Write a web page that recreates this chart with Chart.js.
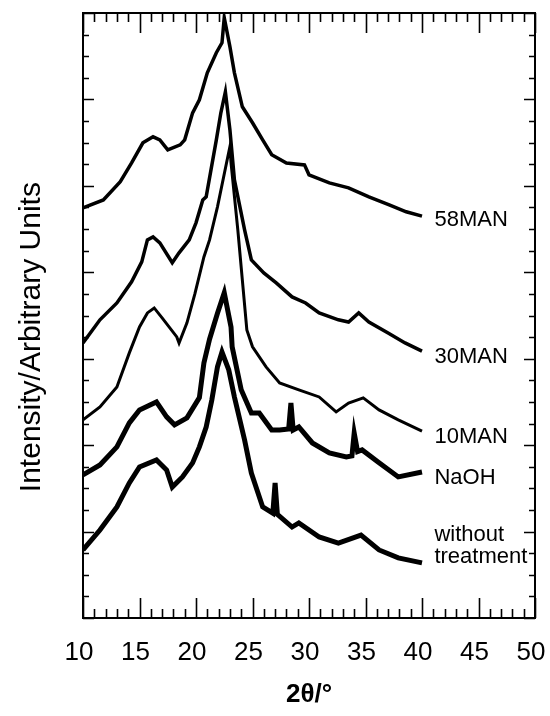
<!DOCTYPE html>
<html>
<head>
<meta charset="utf-8">
<script src="https://cdn.jsdelivr.net/npm/chart.js@4.4.1/dist/chart.umd.min.js"></script>
<style>
  html, body { margin: 0; padding: 0; background: #fff; }
  #wrap { width: 550px; height: 716px; }
</style>
</head>
<body>
<div id="wrap"><canvas id="xrd" width="550" height="716"></canvas></div>
<script>
// 2theta (deg) and intensity (arbitrary, stacked offsets)
const tt58 = [10.0, 11.8, 13.3, 14.3, 15.3, 16.2, 16.8, 17.5, 18.6, 19.0, 19.7, 20.3, 21.0, 21.8, 22.3, 22.5, 23.0, 23.4, 24.1, 25.0, 25.9, 26.7, 28.0, 29.6, 30.0, 31.8, 33.5, 35.3, 37.1, 38.6, 40.0];
const int58 = [18.98, 19.35, 20.19, 21.06, 21.99, 22.27, 22.13, 21.67, 21.90, 22.13, 23.38, 23.98, 25.23, 26.16, 26.62, 27.78, 26.44, 25.23, 23.66, 22.92, 22.13, 21.44, 21.06, 20.97, 20.51, 20.14, 19.91, 19.49, 19.12, 18.80, 18.60];

const tt30 = [10.0, 11.5, 13.0, 14.3, 15.2, 15.7, 16.2, 16.8, 17.9, 18.5, 19.4, 20.0, 20.6, 20.9, 21.8, 22.2, 22.6, 23.0, 23.4, 24.3, 24.9, 26.0, 27.1, 28.5, 29.7, 30.9, 32.6, 33.5, 34.4, 35.3, 37.0, 38.5, 40.0];
const int30 = [12.73, 13.80, 14.58, 15.56, 16.48, 17.50, 17.64, 17.36, 16.44, 16.90, 17.50, 18.29, 19.35, 19.49, 22.13, 23.38, 24.35, 22.60, 20.28, 17.96, 16.57, 15.97, 15.51, 14.86, 14.58, 14.12, 13.80, 13.70, 14.12, 13.70, 13.19, 12.73, 12.35];

const tt10 = [10.0, 11.5, 13.0, 14.1, 15.0, 15.7, 16.3, 17.0, 18.3, 18.5, 19.2, 19.9, 20.7, 21.2, 21.9, 22.7, 23.0, 23.1, 23.7, 24.1, 24.5, 25.0, 26.2, 27.4, 29.1, 30.9, 32.4, 33.5, 34.8, 36.2, 37.9, 40.0];
const int10 = [9.17, 9.77, 10.69, 12.27, 13.47, 14.12, 14.35, 13.89, 13.01, 12.73, 13.66, 15.00, 16.71, 17.50, 19.03, 21.06, 21.81, 21.06, 17.96, 15.65, 13.33, 12.55, 11.62, 10.88, 10.56, 10.23, 9.54, 9.95, 10.19, 9.63, 9.17, 8.65];

const ttNaOH = [10.0, 11.5, 13.0, 14.1, 15.0, 16.5, 17.4, 18.1, 19.2, 20.3, 20.7, 21.2, 21.9, 22.5, 23.1, 23.2, 24.0, 24.9, 25.6, 26.7, 27.4, 28.2, 28.4, 28.6, 29.1, 30.3, 31.8, 33.3, 33.8, 34.0, 34.3, 34.7, 36.2, 37.9, 40.0];
const intNaOH = [6.62, 7.08, 7.92, 9.03, 9.63, 10.00, 9.31, 8.94, 9.26, 10.20, 11.80, 12.90, 14.10, 15.05, 13.47, 12.55, 10.56, 9.49, 9.49, 8.70, 8.70, 8.75, 9.95, 8.70, 8.84, 8.10, 7.64, 7.45, 7.50, 8.56, 7.70, 7.78, 7.18, 6.53, 6.76];

const ttRaw = [10.0, 11.5, 13.0, 14.1, 15.0, 16.5, 17.4, 17.9, 18.8, 19.7, 20.3, 20.9, 21.4, 21.9, 22.3, 22.9, 23.4, 24.3, 24.9, 25.9, 26.8, 27.0, 27.2, 28.5, 29.1, 30.9, 32.6, 34.6, 36.2, 37.9, 40.0];
const intRaw = [3.15, 4.07, 5.14, 6.25, 6.99, 7.31, 6.85, 6.06, 6.53, 7.18, 7.92, 8.84, 10.09, 11.62, 12.31, 11.48, 10.23, 8.24, 6.71, 5.14, 4.85, 6.25, 4.80, 4.21, 4.40, 3.75, 3.47, 3.84, 3.15, 2.78, 2.55];

const seriesNames = ['58MAN', '30MAN', '10MAN', 'NaOH', ['without', 'treatment']];
const labelAt = [18.43, 12.08, 8.38, 6.48, 3.33];   // intensity where each name sits
const xTickLabels = ['10', '15', '20', '25', '30', '35', '40', '45', '50'];

const FONT = "'Liberation Sans', Arial, Helvetica, sans-serif";

const toPoints = (xs, ys) => xs.map((x, i) => ({ x: x, y: ys[i] }));

const curves = [
    { data: toPoints(tt58, int58), w: 3.5 },
    { data: toPoints(tt30, int30), w: 3.5 },
    { data: toPoints(tt10, int10), w: 3 },
    { data: toPoints(ttNaOH, intNaOH), w: 5 },
    { data: toPoints(ttRaw, intRaw), w: 5 }
];

// frame, inward tick marks, y title and the series names
const frameAndLabels = {
    id: 'frameAndLabels',
    afterDraw(chart) {
        const { ctx, chartArea: a, scales: { x, y } } = chart;
        ctx.save();
        ctx.strokeStyle = '#000';
        ctx.lineWidth = 2;
        ctx.strokeRect(a.left, a.top, a.right - a.left, a.bottom - a.top);

        ctx.lineWidth = 1.6;
        ctx.beginPath();
        for (let v = 10; v <= 50; v++) {
            const px = Math.round(x.getPixelForValue(v)) + 0.5;
            const len = v % 5 === 0 ? 20 : 9;
            ctx.moveTo(px, a.bottom); ctx.lineTo(px, a.bottom - len);
            ctx.moveTo(px, a.top); ctx.lineTo(px, a.top + len);
        }
        for (let v = 0; v <= 28; v++) {
            const py = Math.round(y.getPixelForValue(v)) + 0.5;
            const len = v % 4 === 0 ? 11 : 6;
            ctx.moveTo(a.left, py); ctx.lineTo(a.left + len, py);
            ctx.moveTo(a.right, py); ctx.lineTo(a.right - len, py);
        }
        ctx.stroke();

        ctx.fillStyle = '#000';

        // y axis title, a little below the middle of the plot like the original
        ctx.save();
        ctx.translate(32, y.getPixelForValue(13.0));
        ctx.rotate(-Math.PI / 2);
        ctx.font = '30px ' + FONT;
        ctx.textAlign = 'center';
        ctx.textBaseline = 'middle';
        ctx.fillText('Intensity/Arbitrary Units', 0, 0);
        ctx.restore();

        ctx.font = '22px ' + FONT;
        ctx.textAlign = 'left';
        ctx.textBaseline = 'middle';
        const lx = x.getPixelForValue(41.1);
        seriesNames.forEach((name, i) => {
            const ly = y.getPixelForValue(labelAt[i]);
            if (Array.isArray(name)) {
                ctx.fillText(name[0], lx, ly - 11);
                ctx.fillText(name[1], lx, ly + 11);
            } else {
                ctx.fillText(name, lx, ly);
            }
        });
        ctx.restore();
    }
};

new Chart(document.getElementById('xrd'), {
    type: 'line',
    data: {
        datasets: curves.map(c => ({
            data: c.data,
            borderColor: '#000',
            borderWidth: c.w,
            pointRadius: 0,
            tension: 0,
            fill: false
        }))
    },
    options: {
        responsive: false,
        devicePixelRatio: 1,
        animation: false,
        layout: { padding: { top: 13, right: 15, left: 0, bottom: 0 } },
        plugins: { legend: { display: false }, tooltip: { enabled: false } },
        scales: {
            x: {
                type: 'linear',
                min: 10,
                max: 50,
                grid: { display: false },
                border: { display: false },
                ticks: {
                    stepSize: 5,
                    autoSkip: false,
                    maxRotation: 0,
                    padding: 11,
                    labelOffset: -4,
                    color: '#000',
                    font: { family: FONT, size: 26 },
                    callback: (val, i) => xTickLabels[i]
                },
                title: {
                    display: true,
                    text: '2θ/°',
                    color: '#000',
                    font: { family: FONT, size: 26, weight: 'bold' },
                    padding: { top: 0, bottom: 6 }
                },
                afterFit(s) {
                    s.height = 98;
                    s.paddingLeft = 0;
                    s.paddingRight = 0;
                }
            },
            y: {
                min: 0,
                max: 28,
                grid: { display: false },
                border: { display: false },
                ticks: { display: false, stepSize: 4 },
                afterFit(s) { s.width = 83; }
            }
        }
    },
    plugins: [frameAndLabels]
});
</script>
</body>
</html>
